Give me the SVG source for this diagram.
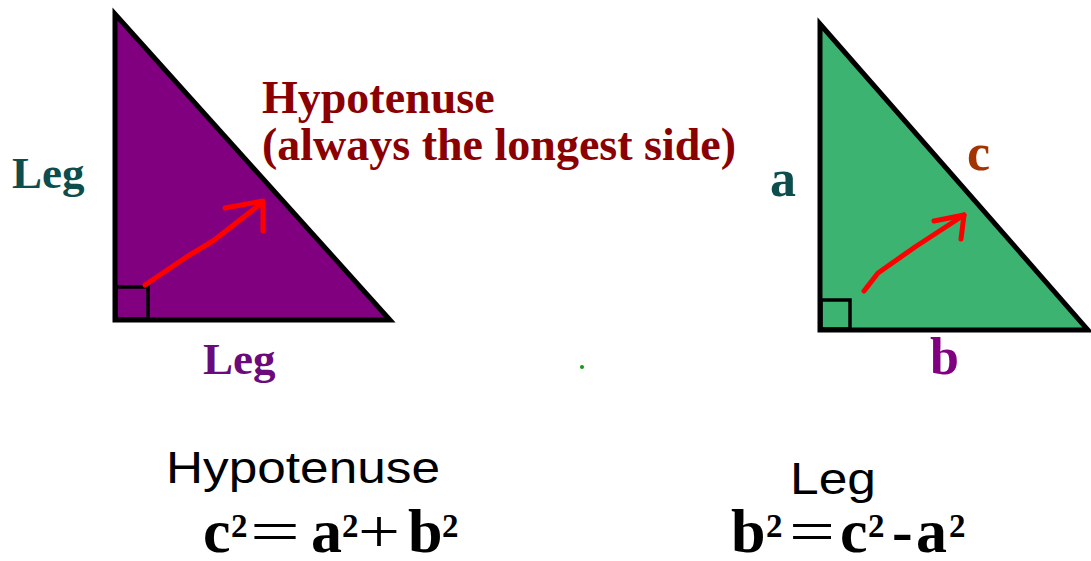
<svg xmlns="http://www.w3.org/2000/svg" width="1091" height="561" viewBox="0 0 1091 561">
<style>
.tri{stroke:#000;stroke-width:5;stroke-linejoin:miter}
.sq{fill:none;stroke:#000;stroke-width:3.5}
.arr{fill:none;stroke:#ff0000;stroke-width:5;stroke-linecap:round;stroke-linejoin:round}
.ser{font-family:"Liberation Serif","Times New Roman",serif;font-weight:bold}
.sans{font-family:"Liberation Sans",Arial,sans-serif;fill:#000}
.big{font-size:62px}
.sup{font-size:33px;font-weight:bold}
.op{font-weight:normal}
</style>
<rect width="1091" height="561" fill="#fff"/>
<g id="triangle-left">
<polygon class="tri" points="115,14 115,320 390,320" fill="#800080"/>
<rect class="sq" x="116" y="287" width="32" height="32"/>
</g>
<g id="triangle-right">
<polygon class="tri" points="820,24 820,330 1088,330" fill="#3CB371"/>
<rect class="sq" x="821" y="300" width="29" height="29"/>
</g>
<g id="connectors">
<path class="arr" d="M145,285 L188,256 L213,241 L263,202"/>
<path class="arr" d="M225,208 L263,201 L263,231"/>
<path class="arr" d="M864,291 L878,273 L915,247 L964,215"/>
<path class="arr" d="M934,221 L964,215 L961,239"/>
</g>
<g id="labels">
<text class="ser" x="262" y="113" font-size="46" fill="#8B0000">Hypotenuse</text>
<text class="ser" x="262" y="160" font-size="46" fill="#8B0000">(always the longest side)</text>
<text class="ser" x="12" y="188" font-size="45" fill="#0D4D4D">Leg</text>
<text class="ser" x="203" y="374" font-size="45" fill="#6B0A7B">Leg</text>
<text class="ser" x="770" y="196" font-size="52" fill="#0D4D4D">a</text>
<text class="ser" x="967" y="170" font-size="52" fill="#A33300">c</text>
<text class="ser" x="930" y="374" font-size="52" fill="#800080">b</text>
<circle cx="582" cy="367" r="2" fill="#119911"/>
</g>
<g id="formula-hyp">
<text class="sans" x="166" y="483" font-size="44" textLength="274" lengthAdjust="spacingAndGlyphs">Hypotenuse</text>
<text class="ser" fill="#000">
<tspan class="big" x="203" y="552">c</tspan>
<tspan class="sup" x="231" y="537">2</tspan>
<tspan class="big op" x="250" y="552" textLength="50" lengthAdjust="spacingAndGlyphs">=</tspan>
<tspan class="big" x="311" y="552">a</tspan>
<tspan class="sup" x="342" y="537">2</tspan>
<tspan class="big op" x="358" y="552" textLength="42" lengthAdjust="spacingAndGlyphs">+</tspan>
<tspan class="big" x="408" y="552">b</tspan>
<tspan class="sup" x="442" y="537">2</tspan>
</text>
</g>
<g id="formula-leg">
<text class="sans" x="790" y="494" font-size="44" textLength="86" lengthAdjust="spacingAndGlyphs">Leg</text>
<text class="ser" fill="#000">
<tspan class="big" x="731" y="552">b</tspan>
<tspan class="sup" x="766" y="537">2</tspan>
<tspan class="big op" x="789" y="552" textLength="46" lengthAdjust="spacingAndGlyphs">=</tspan>
<tspan class="big" x="840" y="552">c</tspan>
<tspan class="sup" x="868" y="537">2</tspan>
<tspan class="big" x="892" y="552">-</tspan>
<tspan class="big" x="916" y="552">a</tspan>
<tspan class="sup" x="949" y="537">2</tspan>
</text>
</g>
</svg>
